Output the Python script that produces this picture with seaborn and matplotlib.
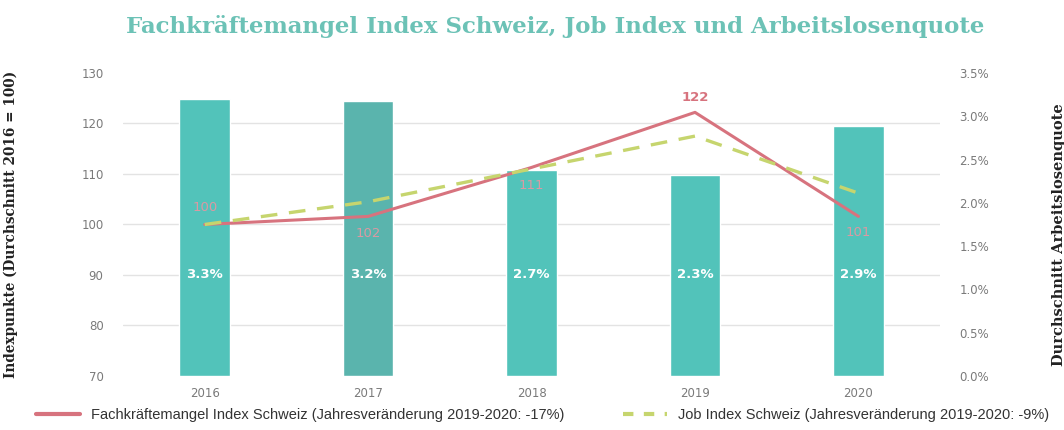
import numpy as np
import pandas as pd
import matplotlib.pyplot as plt
import seaborn as sns
from matplotlib.lines import Line2D

years = ['2016', '2017', '2018', '2019', '2020']
# Arbeitslosenquote (bar heights as drawn) and printed labels
quote = [3.20, 3.18, 2.38, 2.32, 2.89]
quote_labels = ['3.3%', '3.2%', '2.7%', '2.3%', '2.9%']
fachkraefte = [100, 101.6, 111.3, 122.2, 101.6]
fachkraefte_labels = ['100', '102', '111', '122', '101']
job_index = [100, 104.5, 111, 117.5, 106.2]

sns.set_style('white')
plt.rcParams['font.family'] = ['DejaVu Sans']

teal = '#52c3ba'
teal_dark = '#5ab4ad'
red = '#d7737e'
green = '#c6d56e'
grey = '#7a7a7a'

fig = plt.figure(figsize=(10.64, 4.30), dpi=100)
ax = fig.add_axes([0.1156, 0.1256, 0.768, 0.7047])

df = pd.DataFrame({'Jahr': years, 'Quote': quote})
sns.barplot(data=df, x='Jahr', y='Quote', hue='Jahr', legend=False,
            palette=[teal, teal_dark, teal, teal, teal], width=0.31,
            saturation=1, ax=ax, zorder=2)

axl = ax.twinx()
xs = np.arange(len(years))
sns.lineplot(x=xs, y=fachkraefte, ax=axl, color=red, linewidth=2.2)
sns.lineplot(x=xs, y=job_index, ax=axl, color=green, linewidth=2.4,
             linestyle=(0, (5, 3.5)))

# right axis: Arbeitslosenquote
ax.set_ylim(0, 3.5)
ax.set_xlim(-0.5, 4.5)
ax.set_yticks(np.arange(0, 3.51, 0.5))
ax.set_yticklabels([f'{v:.1f}%' for v in np.arange(0, 3.51, 0.5)])
# gridlines follow the left (index) scale, drawn behind the bars
idx_ticks = np.arange(70, 131, 10)
ax.set_yticks((idx_ticks - 70) / 60 * 3.5, minor=True)
ax.yaxis.tick_right()
ax.yaxis.set_label_position('right')
ax.grid(axis='y', which='minor', color='#e3e3e3', linewidth=1, zorder=0)
ax.grid(axis='y', which='major', visible=False)
ax.set_axisbelow(True)
ax.set_xlabel('')
ax.set_ylabel('Durchschnitt Arbeitslosenquote', family='DejaVu Serif',
              fontweight='bold', fontsize=10.5, color='#222222')
ax.yaxis.set_label_coords(1.137, 0.465)
ax.tick_params(axis='y', which='both', colors=grey, labelsize=8.5, length=0, pad=14)
ax.tick_params(axis='x', colors=grey, labelsize=8.5, length=0, pad=8)
for s in ax.spines.values():
    s.set_visible(False)

# left axis: Indexpunkte
axl.set_ylim(70, 130)
axl.set_yticks(idx_ticks)
axl.yaxis.tick_left()
axl.yaxis.set_label_position('left')
axl.set_ylabel('Indexpunkte (Durchschnitt 2016 = 100)', family='DejaVu Serif',
               fontweight='bold', fontsize=9.8, color='#222222')
axl.yaxis.set_label_coords(-0.128, 0.5)
axl.tick_params(axis='y', colors=grey, labelsize=8.5, length=0, pad=14)
for s in axl.spines.values():
    s.set_visible(False)

# bar labels (in left-axis units, at 90)
for i, lab in enumerate(quote_labels):
    axl.text(i, 90, lab, ha='center', va='center', color='white',
             fontsize=9.5, fontweight='bold')

offsets = [3.3, -3.3, -3.6, 3.0, -3.2]
for i, lab in enumerate(fachkraefte_labels):
    axl.text(i, fachkraefte[i] + offsets[i], lab, ha='center', va='center',
             color=red if i == 3 else '#d99aa3', fontsize=9.5,
             fontweight='bold' if i == 3 else 'normal')

fig.suptitle('Fachkräftemangel Index Schweiz, Job Index und Arbeitslosenquote',
             x=0.522, y=0.965, fontsize=16.5, fontweight='bold', color='#6cc2b6',
             family='DejaVu Serif')

handles = [Line2D([], [], color=red, linewidth=3),
           Line2D([], [], color=green, linewidth=3, linestyle=(0, (2.5, 2.5)))]
labels = ['Fachkräftemangel Index Schweiz (Jahresveränderung 2019-2020: -17%)',
          'Job Index Schweiz (Jahresveränderung 2019-2020: -9%)']
fig.legend(handles, labels, loc='lower center', bbox_to_anchor=(0.51, -0.012),
           ncol=2, frameon=False, handlelength=3, columnspacing=4,
           labelcolor='#333333',
           prop={'family': ['Liberation Sans', 'DejaVu Sans'], 'size': 10.5})

fig.savefig('out.png', dpi=100)
